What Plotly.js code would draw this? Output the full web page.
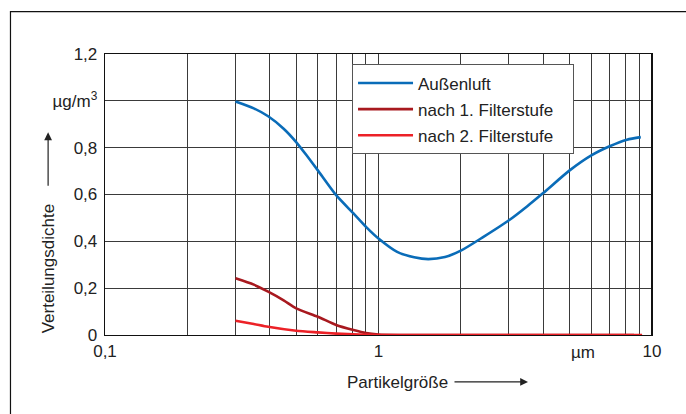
<!DOCTYPE html>
<html>
<head>
<meta charset="utf-8">
<script src="https://cdn.plot.ly/plotly-3.0.1.min.js"></script>
<style>html,body{margin:0;padding:0;background:#fff}#chart{width:686px;height:414px}</style>
</head>
<body>
<div id="chart"></div>
<script>
// ---- data ----
const seriesNames = ['Außenluft', 'nach 1. Filterstufe', 'nach 2. Filterstufe'];

const xAussen = [0.30, 0.35, 0.395, 0.45, 0.50, 0.55, 0.60, 0.70, 0.81, 0.90, 1.0, 1.17, 1.35, 1.52, 1.75, 2.0, 2.42, 3.0, 3.5, 4.0, 5.0, 6.0, 7.0, 8.1, 9.1];
const yAussen = [0.997, 0.968, 0.934, 0.881, 0.824, 0.762, 0.703, 0.597, 0.519, 0.462, 0.412, 0.355, 0.332, 0.324, 0.333, 0.360, 0.419, 0.490, 0.550, 0.606, 0.703, 0.767, 0.806, 0.834, 0.845];

const xStufe1 = [0.30, 0.35, 0.395, 0.45, 0.50, 0.60, 0.70, 0.81, 0.90, 1.0, 1.2, 2.0, 4.0, 8.6];
const yStufe1 = [0.242, 0.215, 0.185, 0.148, 0.114, 0.078, 0.043, 0.021, 0.008, 0.002, 0.0, 0.0, 0.0, 0.0];

const xStufe2 = [0.30, 0.35, 0.395, 0.50, 0.60, 0.70, 0.85, 1.0, 1.2, 2.0, 4.0, 9.2];
const yStufe2 = [0.061, 0.047, 0.035, 0.018, 0.011, 0.006, 0.002, 0.0, 0.0, 0.0, 0.0, 0.0];

const xTickVals = [0.1, 0.2, 0.3, 0.4, 0.5, 0.6, 0.7, 0.8, 0.9, 1, 2, 3, 4, 5, 6, 7, 8, 9, 10];
const xTickText = ['0,1', '', '', '', '', '', '', '', '', '1', '', '', '', '', '', '', '', '', '10'];
const yTickVals = [0, 0.2, 0.4, 0.6, 0.8, 1.0, 1.2];
const yTickText = ['0', '0,2', '0,4', '0,6', '0,8', 'µg/m<sup>3</sup>', '1,2'];

const colors = ['#0a6cb8', '#a8191f', '#ec2127'];
const FONT = '"Liberation Sans", Arial, sans-serif';
const FS = 17;
const PAD = '\u00a0\u00a0\u00a0';

const xs = [xAussen, xStufe1, xStufe2];
const ys = [yAussen, yStufe1, yStufe2];
const traces = seriesNames.map((n, i) => ({
  type: 'scatter', mode: 'lines', name: n + (i === 1 ? PAD : ''),
  x: xs[i], y: ys[i],
  line: {color: colors[i], width: 2.6, shape: 'spline', smoothing: 0.7},
  legendgroup: 'g' + i
}));

const layout = {
  width: 686, height: 414,
  margin: {l: 105, r: 34, t: 53.5, b: 79},
  paper_bgcolor: '#fff', plot_bgcolor: '#fff',
  font: {family: FONT, size: FS, color: '#222'},
  showlegend: true,
  legend: {
    x: 0.4516, y: 0.9627, xanchor: 'left', yanchor: 'top',
    bgcolor: '#fff', bordercolor: '#555', borderwidth: 1,
    font: {family: FONT, size: FS, color: '#222'},
    tracegroupgap: 1, itemwidth: 55
  },
  xaxis: {
    type: 'log', range: [-1, 1],
    tickvals: xTickVals, ticktext: xTickText,
    showgrid: true, gridcolor: '#3a3a3a', gridwidth: 1,
    showline: true, linecolor: '#111', linewidth: 1.3, mirror: true,
    ticks: '', zeroline: false,
    tickfont: {family: FONT, size: FS, color: '#222'}
  },
  yaxis: {
    range: [0, 1.2],
    tickvals: yTickVals, ticktext: yTickText,
    showgrid: true, gridcolor: '#3a3a3a', gridwidth: 1,
    showline: true, linecolor: '#111', linewidth: 1.3, mirror: true,
    ticks: '', zeroline: false, ticklabelstandoff: 3,
    tickfont: {family: FONT, size: FS, color: '#222'}
  },
  shapes: [
    {type: 'rect', xref: 'paper', yref: 'paper', x0: -0.1728, x1: 1.2, y0: -0.35, y1: 1.151,
     line: {color: '#111', width: 1.2}, fillcolor: 'rgba(0,0,0,0)', layer: 'below'},
    {type: 'line', xref: 'paper', yref: 'paper', x0: 1, x1: 1, y0: 0, y1: 1,
     line: {color: '#111', width: 2}}
  ],
  annotations: [
    {xref: 'paper', yref: 'paper', x: 0.874, y: -0.062, text: 'µm', showarrow: false,
     xanchor: 'center', yanchor: 'middle', font: {family: FONT, size: FS, color: '#222'}},
    {xref: 'paper', yref: 'paper', x: -0.104, y: 0.234, text: 'Verteilungsdichte', textangle: -90,
     showarrow: false, xanchor: 'center', yanchor: 'middle', font: {family: FONT, size: FS, color: '#222'}},
    {xref: 'paper', yref: 'paper', x: -0.104, y: (335 - 132) / 281.5, text: '', showarrow: true,
     ax: 0, ay: 55, arrowhead: 2, arrowsize: 1.3, arrowwidth: 1.2, arrowcolor: '#222'},
    {xref: 'paper', yref: 'paper', x: 0.534, y: -0.1705, text: 'Partikelgröße', showarrow: false,
     xanchor: 'center', yanchor: 'middle', font: {family: FONT, size: FS, color: '#222'}},
    {xref: 'paper', yref: 'paper', x: (528 - 105) / 547, y: -0.1669, text: '', showarrow: true,
     ax: -75, ay: 0, arrowhead: 2, arrowsize: 1.3, arrowwidth: 1.2, arrowcolor: '#222'}
  ]
};

Plotly.newPlot('chart', traces, layout, {displayModeBar: false, staticPlot: true});
</script>
</body>
</html>
